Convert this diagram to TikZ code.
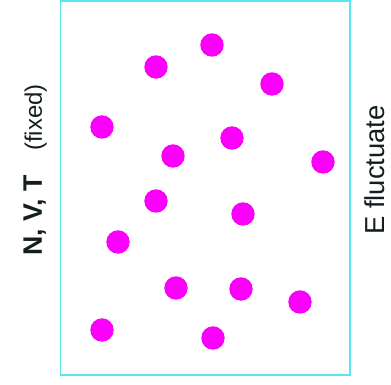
\documentclass[tikz,border=0pt]{standalone}
\usepackage{fontspec}
\setmainfont{Liberation Sans}
\usepackage{tikz}
\definecolor{wall}{RGB}{90,230,240}
\definecolor{atom}{RGB}{250,0,250}
\definecolor{ink}{RGB}{20,30,30}
\tikzset{
  particle/.style={fill=atom},
  sidelabel/.style={rotate=90,text=ink,inner sep=0pt},
}
\begin{document}
\begin{tikzpicture}[x=0.025cm,y=-0.025cm]
        \useasboundingbox (0,0) rectangle (391,385);
        % box
        \draw[wall,line width=1.2pt] (60.5,0.8) rectangle (350,375);
        % particles
        \foreach \x/\y in {212/45,156/67,272/84,102/127,232/138,173/156,323/162,
          156/201,243/214,118/242,176/288,241/289,300/302,102/330,213/338}
          \fill[particle] (\x,\y) circle (11.7);
        % labels
        \node[sidelabel,anchor=base] (nvt) at (42,170)
          {\fontsize{19}{22}\selectfont\bfseries N, V, T\hspace{0.9em}\fontsize{17}{20}\mdseries (fixed)};
        \node[sidelabel,anchor=base] (efl) at (385,170)
          {\fontsize{19.5}{22}\selectfont E fluctuate};
\end{tikzpicture}
\end{document}
